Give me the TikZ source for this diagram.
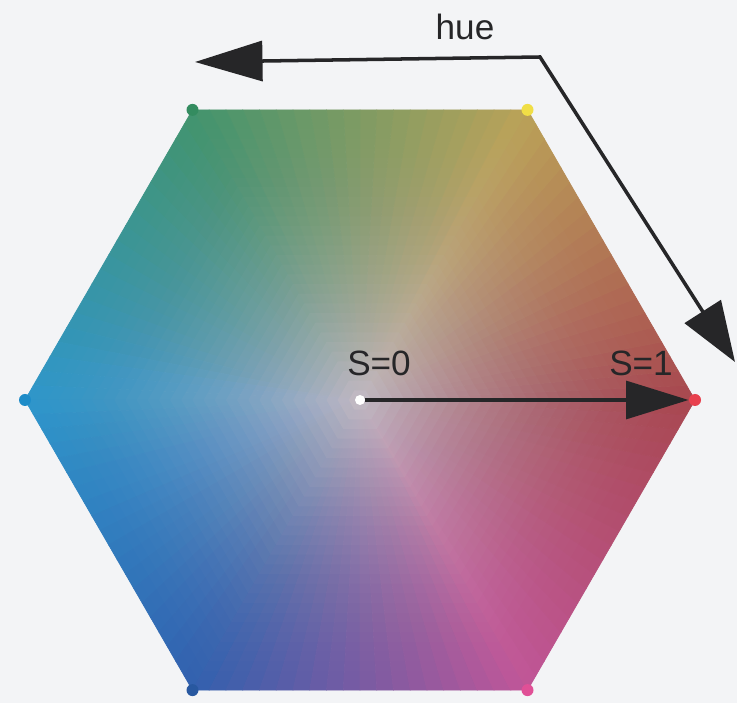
\documentclass[tikz,border=0pt]{standalone}
\usepackage{fontspec}
\setmainfont{Liberation Sans}
\usepackage{xcolor}
\usetikzlibrary{arrows.meta, calc, positioning}
\definecolor{paper}{RGB}{243,244,246}
\definecolor{ink}{RGB}{38,38,40}
% hue colours at the corners
\definecolor{hr}{RGB}{168,72,80}
\definecolor{hy}{RGB}{186,162,88}
\definecolor{hg}{RGB}{66,148,110}
\definecolor{hc}{RGB}{46,150,204}
\definecolor{hb}{RGB}{50,96,174}
\definecolor{hm}{RGB}{192,86,152}
\definecolor{hw}{RGB}{192,184,194}
% corner dots
\definecolor{dr}{RGB}{232,64,78}
\definecolor{dy}{RGB}{240,222,70}
\definecolor{dg}{RGB}{52,140,96}
\definecolor{dc}{RGB}{30,140,200}
\definecolor{db}{RGB}{40,88,160}
\definecolor{dm}{RGB}{224,80,150}

\begin{document}
\begin{tikzpicture}[
    x=0.02cm, y=0.02cm,
    every node/.style={font=\fontsize{20}{24}\selectfont, text=ink},
    vdot/.style={circle, inner sep=0pt, minimum size=0.24cm},
    lbl/.style={inner sep=1pt},
    huearrow/.style={draw=ink, line width=2pt, {Triangle[length=1.35cm, width=0.8cm]}-{Triangle[length=1.2cm, width=0.85cm]}},
    sarrow/.style={draw=ink, line width=2.6pt, -{Triangle[length=1.25cm, width=0.75cm]}}
]
    \fill[paper] (0,0) rectangle (737,703);
    \useasboundingbox (0,0) rectangle (737,703);

    % Hexagon corners
    \coordinate (c) at (360,303);
    \foreach \k in {0,...,5}
        \coordinate (v\k) at ($(c)+({\k*60}:335)$);

    % Hue wedges
    \foreach \ca/\cb [count=\k from 0] in {hr/hy, hy/hg, hg/hc, hc/hb, hb/hm, hm/hr} {
        \pgfmathtruncatemacro\kk{mod(\k+1,6)}
        \foreach \t in {0,...,19} {
            \pgfmathtruncatemacro\p{\t*5+2}
            \colorlet{wedge}{\cb!\p!\ca}
            \fill[wedge, draw=wedge, line width=0.4pt] (c) -- ($(v\k)!{\t/20}!(v\kk)$) -- ($(v\k)!{(\t+1)/20}!(v\kk)$) -- cycle;
        }
    }

    % Saturation towards the centre
    \foreach \j in {30,...,1} {
        \pgfmathsetmacro\rr{\j*335/30}
        \pgfmathsetmacro\op{1-(1-(1-(\j-1)/30)^1.5)/(1-(1-\j/30)^1.5)}
        \fill[hw, fill opacity=\op, shift={(c)}] (0:\rr) \foreach \a in {60,120,...,300} { -- (\a:\rr) } -- cycle;
    }

    % Corner dots
    \node[vdot, fill=dr] (red) at (v0) {};
    \node[vdot, fill=dy] (yellow) at (v1) {};
    \node[vdot, fill=dg] (green) at (v2) {};
    \node[vdot, fill=dc] (cyan) at (v3) {};
    \node[vdot, fill=db] (blue) at (v4) {};
    \node[vdot, fill=dm] (magenta) at (v5) {};
    \node[vdot, fill=white, minimum size=0.2cm] (white) at (c) {};

    % Labels
    \node[lbl] (s0) at (379,340) {S=0};
    \node[lbl] (s1) at (641,340) {S=1};
    \node[lbl] (hue) at (465,676) {hue};

    % Arrows
    \coordinate (hueL) at (195,641);
    \coordinate (hueB) at (540,646);
    \coordinate (hueR) at (735,341);
    \draw[huearrow] (hueL) -- (hueB) -- (hueR);
    \draw[sarrow] (white) -- (red);
\end{tikzpicture}
\end{document}
